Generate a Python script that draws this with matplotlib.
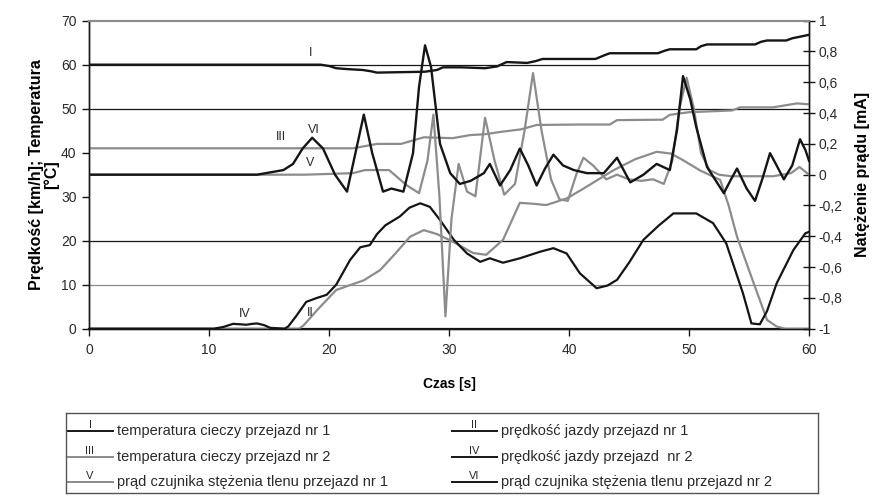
import matplotlib
matplotlib.use("Agg")
import matplotlib.pyplot as plt
from matplotlib.lines import Line2D

plt.rcParams['font.family'] = ['Liberation Sans', 'DejaVu Sans']

# temperatura cieczy przejazd nr 1 [°C]
t1_x = [0, 19.3, 20, 20.6, 21.5, 22.8, 23.5, 24, 26, 28, 29, 29.5, 31, 33, 34, 34.8, 36.5, 37.2,
        37.8, 40, 42.2, 43, 43.4, 47.4, 48, 48.4, 50.6, 51, 51.5, 55.5, 56, 56.5, 58.1, 58.6, 59.5, 60]
t1_y = [60, 60, 59.7, 59.2, 59, 58.8, 58.5, 58.2, 58.3, 58.4, 58.8, 59.4, 59.4, 59.2, 59.6, 60.6, 60.4,
        60.8, 61.3, 61.3, 61.3, 62.2, 62.6, 62.6, 63.2, 63.5, 63.5, 64.2, 64.6, 64.6, 65.2, 65.5, 65.5,
        66, 66.5, 66.8]

# predkosc jazdy przejazd nr 1 [km/h]
v1_x = [0, 17.5, 17.9, 19, 20.6, 22.9, 24.25, 25.5, 26.75, 27.9, 29, 30.3, 32, 33.1, 34.5, 35.9, 37,
        38.1, 39.8, 41, 42.5, 43.7, 45.5, 47.3, 48.5, 49.5, 50.9, 52.6, 53.3, 54, 55.3, 56.5, 57.3, 58, 60]
v1_y = [0, 0, 0.8, 4.2, 8.8, 11, 13.3, 17, 20.9, 22.4, 21.5, 19.8, 17.2, 16.8, 20.2, 28.6, 28.4, 28.1,
        29.6, 31.5, 34, 36, 38.5, 40.2, 39.8, 38.3, 36, 33.8, 28, 20.9, 11, 2, 0.5, 0, 0]

# temperatura cieczy przejazd nr 2 [°C]
t2_x = [0, 22, 24, 26, 27.9, 30.3, 31.75, 33, 34.5, 36, 37.3, 40.9, 43.4, 44, 47.8, 48.4, 50, 53.6,
        54.25, 57, 59, 60]
t2_y = [41, 41, 42, 42, 43.5, 43.3, 44, 44.2, 44.8, 45.3, 46.3, 46.4, 46.4, 47.4, 47.5, 48.6, 49.2,
        49.6, 50.3, 50.3, 51.2, 51]

# predkosc jazdy przejazd nr 2 [km/h]
v2_x = [0, 10.4, 11.2, 12, 12.6, 13.1, 13.6, 14, 14.6, 15.1, 16.3, 16.6, 17.3, 18.1, 19, 19.8, 20.6,
        21.75, 22.6, 23.4, 24, 24.7, 25.9, 26.7, 27.6, 28.4, 29.25, 30.4, 31.5, 32.6, 33.4, 34.5, 35.9,
        37.6, 38.7, 39.8, 40.9, 42.3, 43.2, 44, 45, 46.2, 47.5, 48.7, 50.6, 52, 53.1, 54.5, 55.2, 55.9,
        56.5, 57.3, 58.7, 59.7, 60]
v2_y = [0, 0, 0.4, 1.1, 1.0, 0.9, 1.1, 1.2, 0.8, 0.2, 0, 0.5, 3, 6.1, 7, 7.7, 10, 15.6, 18.5, 19,
        21.5, 23.5, 25.5, 27.5, 28.5, 27.7, 24.7, 20.2, 17.1, 15.2, 16, 15, 16, 17.5, 18.3, 17.1, 12.6,
        9.2, 9.8, 11.1, 15, 20.2, 23.5, 26.2, 26.2, 24, 19.4, 8, 1.2, 1, 4, 10.3, 17.9, 21.7, 22]

# prad czujnika stezenia tlenu przejazd nr 1 [mA]
o1_x = [0, 18, 22, 23, 25, 26.5, 27.5, 28.2, 28.7, 29.2, 29.7, 30.2, 30.8, 31.5, 32.2, 33, 33.8, 34.6,
        35.5, 36.3, 37, 37.7, 38.5, 39.2, 39.9, 40.6, 41.2, 42, 43.1, 44, 45, 46, 47, 47.9, 48.6, 49.2,
        49.8, 50.4, 51, 51.7, 52.5, 53.5, 55, 57, 58.5, 59.2, 60]
o1_y = [0, 0, 0.01, 0.03, 0.03, -0.07, -0.12, 0.09, 0.39, -0.14, -0.92, -0.29, 0.07, -0.11, -0.14,
        0.37, 0.09, -0.13, -0.06, 0.29, 0.66, 0.29, -0.03, -0.16, -0.17, 0, 0.11, 0.06, -0.03, 0,
        -0.03, -0.04, -0.03, -0.06, 0.09, 0.43, 0.63, 0.43, 0.14, 0.03, 0, -0.01, -0.01, -0.01, 0.01,
        0.05, 0]

# prad czujnika stezenia tlenu przejazd nr 2 [mA]
o2_x = [0, 14, 16.2, 17, 17.8, 18.6, 19.5, 20.5, 21.5, 22.2, 22.9, 23.6, 24.5, 25.2, 26.2, 27, 27.5,
        28, 28.5, 29.25, 30.1, 30.9, 31.8, 32.9, 33.4, 34.25, 35.1, 35.9, 36.6, 37.3, 38, 38.7, 39.5,
        40.4, 41.5, 42.9, 44, 45.1, 46.2, 47.3, 48.4, 49, 49.5, 50.1, 50.6, 51.5, 52.9, 53.5, 54, 54.8,
        55.5, 56.1, 56.75, 57.3, 57.9, 58.6, 59.25, 59.7, 60]
o2_y = [0, 0, 0.03, 0.07, 0.17, 0.24, 0.17, 0, -0.11, 0.14, 0.39, 0.14, -0.11, -0.09, -0.11, 0.14,
        0.57, 0.84, 0.7, 0.2, 0.01, -0.06, -0.04, 0.01, 0.07, -0.07, 0.03, 0.17, 0.06, -0.07, 0.04,
        0.13, 0.06, 0.03, 0.01, 0.01, 0.11, -0.05, 0.0, 0.07, 0.03, 0.29, 0.64, 0.49, 0.31, 0.05,
        -0.12, -0.03, 0.04, -0.09, -0.17, -0.03, 0.14, 0.06, -0.03, 0.06, 0.23, 0.16, 0.09]

left_ticks = [0, 10, 20, 30, 40, 50, 60, 70]
grid_levels = [10, 20, 50, 60]
right_ticks = [-1, -0.8, -0.6, -0.4, -0.2, 0, 0.2, 0.4, 0.6, 0.8, 1]
x_ticks = [0, 10, 20, 30, 40, 50, 60]

legend_labels = [
    ('I', 'temperatura cieczy przejazd nr 1', 'II', 'prędkość jazdy przejazd nr 1'),
    ('III', 'temperatura cieczy przejazd nr 2', 'IV', 'prędkość jazdy przejazd  nr 2'),
    ('V', 'prąd czujnika stężenia tlenu przejazd nr 1', 'VI', 'prąd czujnika stężenia tlenu przejazd nr 2'),
]

BLACK = '#151515'
GREY = '#8c8c8c'
TXT = '#2a2a2a'

fig = plt.figure(figsize=(8.77, 4.96), dpi=100)
ax = fig.add_axes([0.1015, 0.3373, 0.8210, 0.6210])
ax2 = ax.twinx()

for g in grid_levels:
    ax.axhline(g, color=GREY if g == 10 else BLACK, lw=0.9, zorder=1)

ax.plot(t1_x, t1_y, color=BLACK, lw=1.7, zorder=3)
ax.plot(t2_x, t2_y, color=GREY, lw=1.6, zorder=3)
ax.plot(v1_x, v1_y, color=GREY, lw=1.6, zorder=3)
ax.plot(v2_x, v2_y, color=BLACK, lw=1.6, zorder=3)
ax2.plot(o1_x, o1_y, color=GREY, lw=1.6)
ax2.plot(o2_x, o2_y, color=BLACK, lw=1.7)

ax.set_xlim(0, 60)
ax.set_ylim(0, 70)
ax2.set_ylim(-1, 1)
ax.set_xticks(x_ticks)
ax.set_yticks(left_ticks)
ax2.set_yticks(right_ticks)
ax2.set_yticklabels([('%g' % t).replace('.', ',') for t in right_ticks])

for a in (ax, ax2):
    a.spines['top'].set_color(GREY)
    a.spines['top'].set_linewidth(1.5)
    for s in ('left', 'right', 'bottom'):
        a.spines[s].set_color(BLACK)
        a.spines[s].set_linewidth(1.0)
ax.spines['bottom'].set_linewidth(1.6)

ax.tick_params(axis='both', direction='out', length=5, width=1, colors=BLACK,
               labelcolor=TXT, labelsize=10, pad=5)
ax.tick_params(axis='y', pad=4)
ax2.tick_params(axis='y', direction='inout', length=8, width=1, colors=BLACK,
                labelcolor=TXT, labelsize=10, pad=3)

ax.set_xlabel('Czas [s]', fontsize=10, fontweight='bold', labelpad=15)
ax.set_ylabel('Prędkość [km/h]; Temperatura\n[°C]', fontsize=11.5, fontweight='bold',
              linespacing=1.0, labelpad=1)
ax2.set_ylabel('Natężenie prądu [mA]', fontsize=11.5, fontweight='bold', labelpad=9)

# roman numerals placed next to the curves
marks = [('I', 18.5, 61.2), ('II', 18.4, 2.2), ('III', 16.0, 42.1),
         ('IV', 13.0, 2.0), ('V', 18.4, 36.3), ('VI', 18.7, 43.8)]
for txt, mx, my in marks:
    ax.text(mx, my, txt, fontsize=9, color=TXT, ha='center', va='bottom', zorder=5)

# legend box under the chart
lg = fig.add_axes([66 / 877, 3 / 496, 752 / 877, 80 / 496])
lg.set_xlim(0, 752)
lg.set_ylim(0, 80)
lg.set_xticks([])
lg.set_yticks([])
for s in lg.spines.values():
    s.set_color('#555555')
    s.set_linewidth(1.0)

styles = {'I': BLACK, 'II': BLACK, 'III': GREY, 'IV': BLACK, 'V': GREY, 'VI': BLACK}
rows_y = [62, 36, 11]
for (n1, l1, n2, l2), yy in zip(legend_labels, rows_y):
    for num, lab, x0 in ((n1, l1, 2), (n2, l2, 386)):
        lg.add_line(Line2D([x0, x0 + 45], [yy, yy], color=styles[num], lw=1.4))
        lg.text(x0 + 22, yy + 1, num, fontsize=8, ha='center', va='bottom', color=TXT)
        lg.text(x0 + 49, yy, lab, fontsize=10.5, ha='left', va='center', color=TXT)

fig.savefig('out.png', dpi=100)
